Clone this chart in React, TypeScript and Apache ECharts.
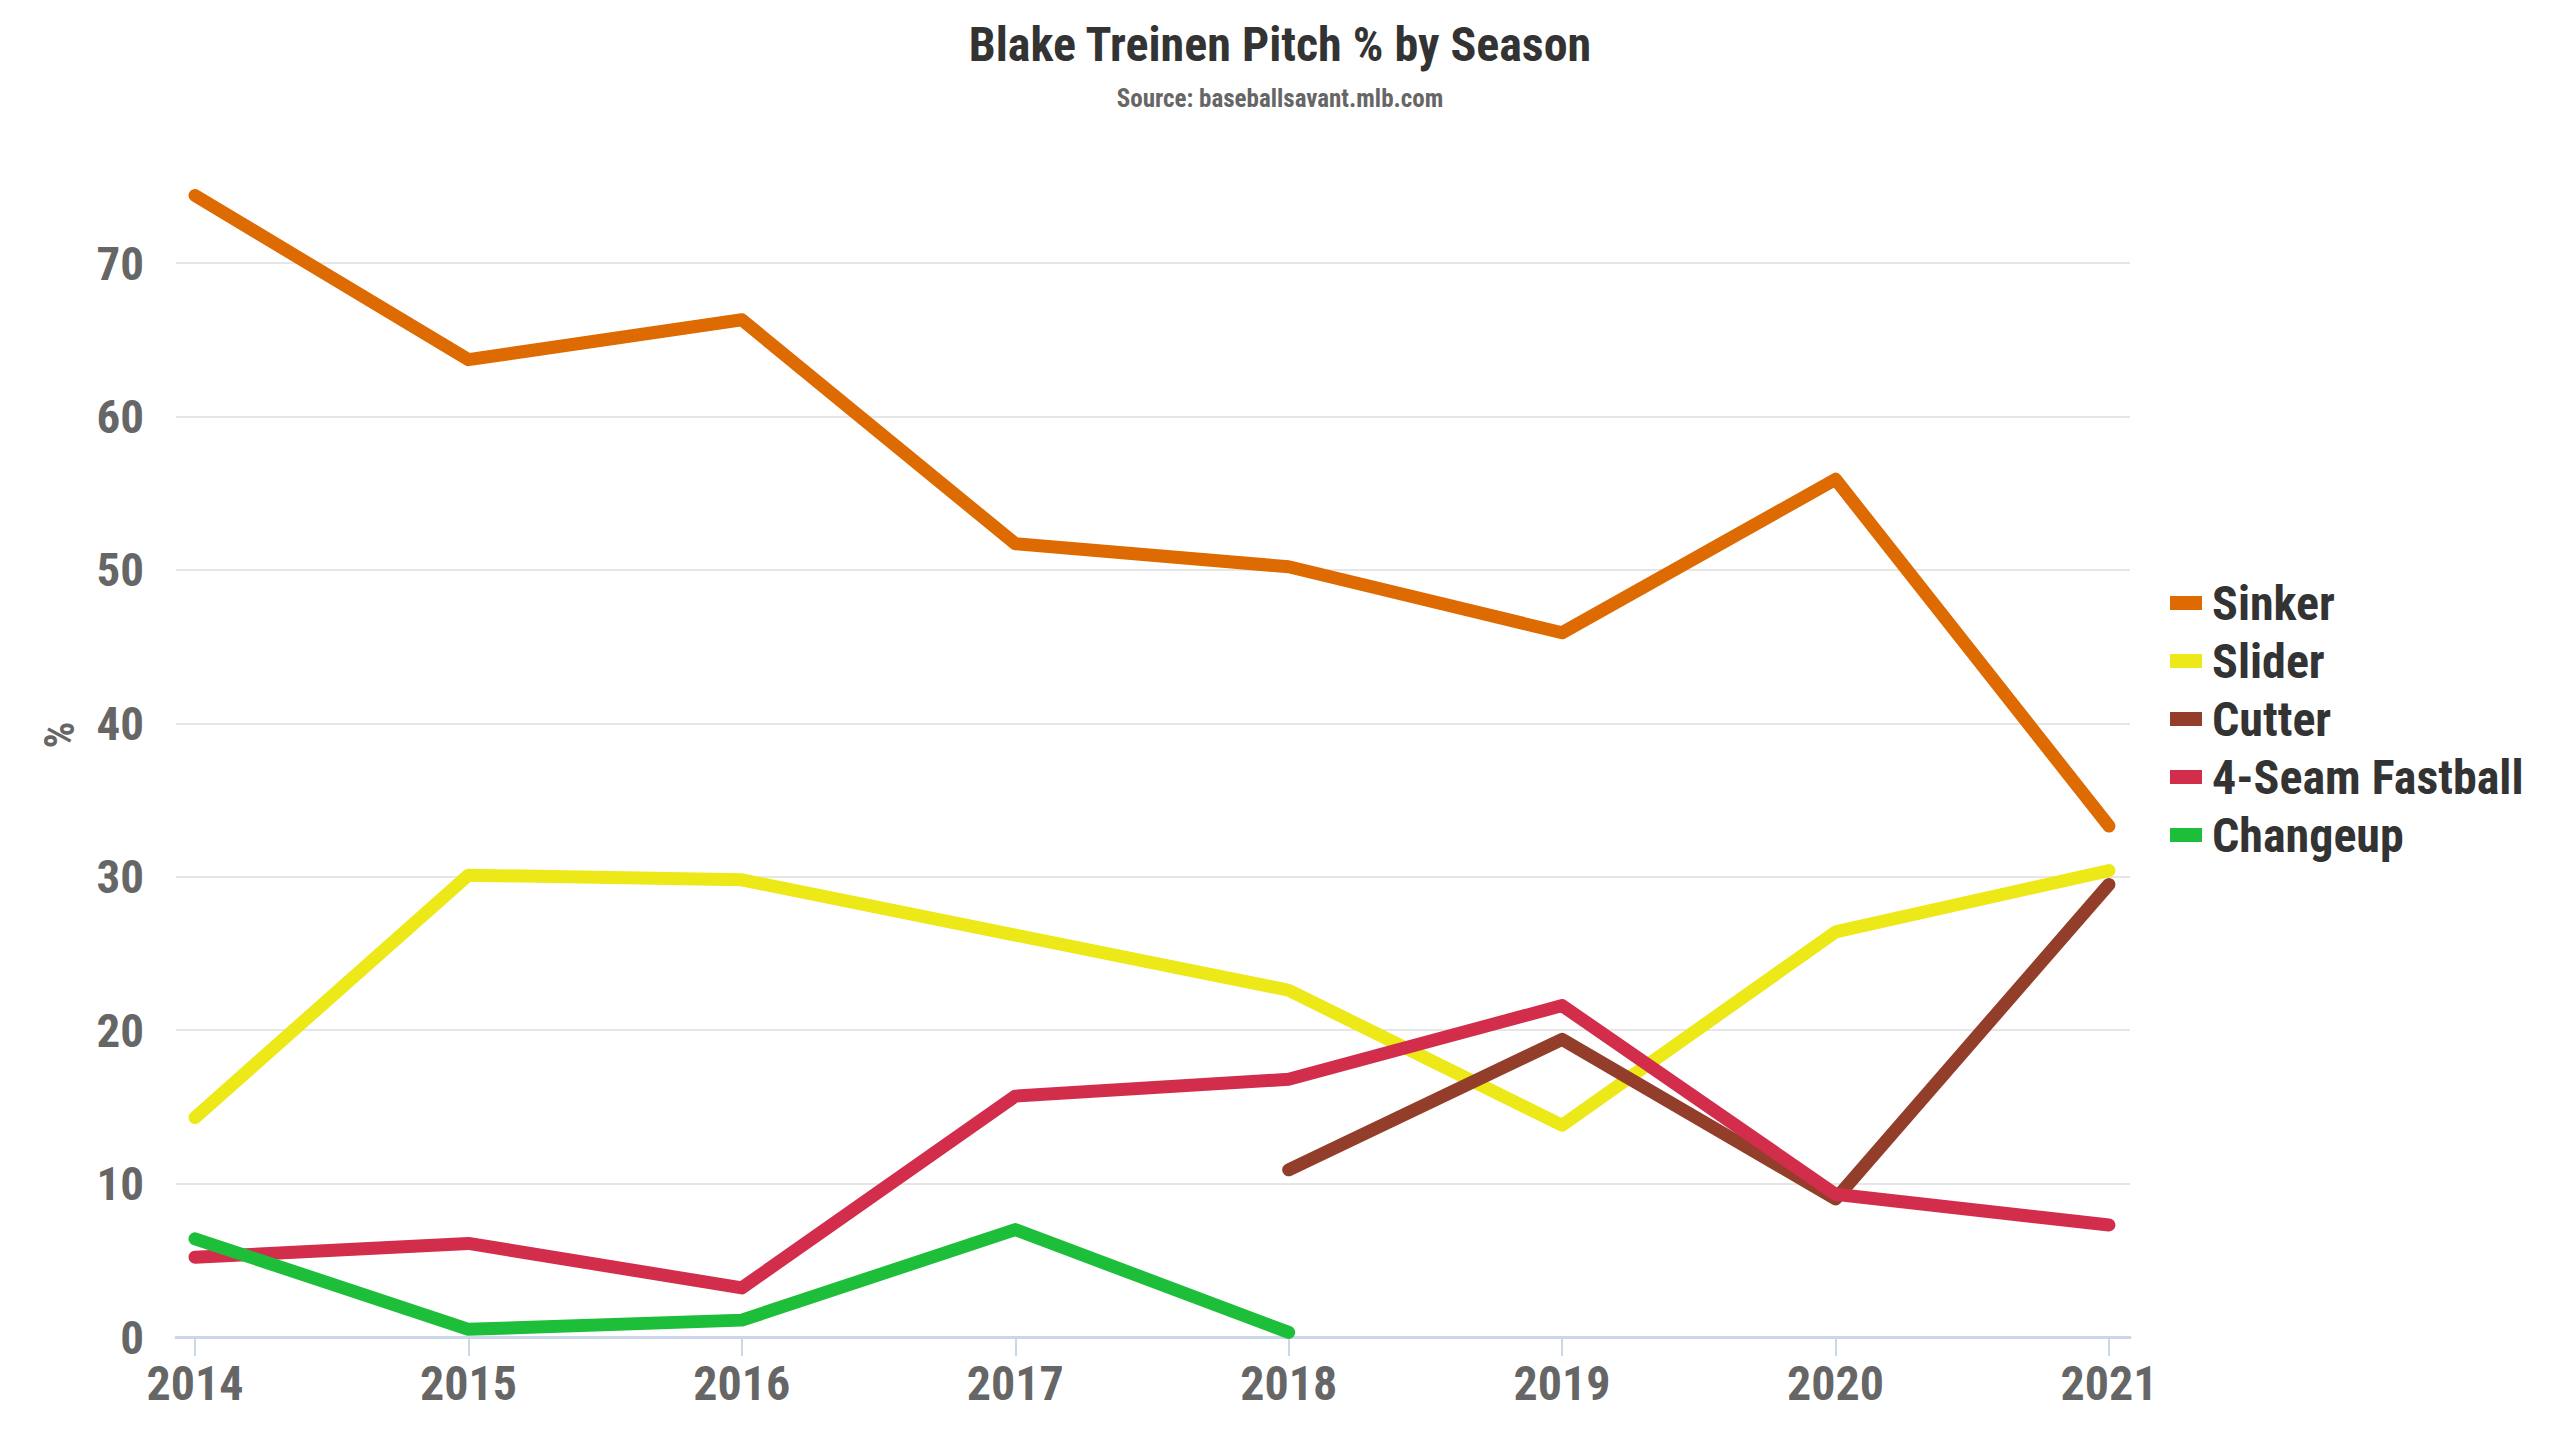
import React, { useEffect, useRef } from "react";
import * as echarts from "echarts";

const TITLE = "Blake Treinen Pitch % by Season";
const SUBTITLE = "Source: baseballsavant.mlb.com";
const Y_NAME = "%";

const YEARS = [2014, 2015, 2016, 2017, 2018, 2019, 2020, 2021];
const Y_TICKS = [0, 10, 20, 30, 40, 50, 60, 70];

const SERIES_NAMES = ["Sinker", "Slider", "Cutter", "4-Seam Fastball", "Changeup"];
const SERIES_COLORS = ["#de6a02", "#ede818", "#933e2a", "#d32d4c", "#1dbf3a"];

const SINKER = [74.4, 63.7, 66.3, 51.7, 50.2, 45.9, 55.9, 33.3];
const SLIDER = [14.3, 30.1, 29.8, 26.2, 22.6, 13.8, 26.4, 30.4];
const CUTTER: (number | null)[] = [null, null, null, null, 10.9, 19.4, 9.0, 29.5];
const FOURSEAM = [5.2, 6.1, 3.2, 15.7, 16.8, 21.6, 9.3, 7.3];
const CHANGEUP: (number | null)[] = [6.4, 0.5, 1.1, 7.0, 0.3, null, null, null];

const SERIES_VALUES = [SINKER, SLIDER, CUTTER, FOURSEAM, CHANGEUP];

const FONT = "'Roboto Condensed', 'Liberation Sans Narrow', 'DejaVu Sans Condensed', sans-serif";

export default function App() {
  const ref = useRef<HTMLDivElement>(null);

  useEffect(() => {
    if (!ref.current) return;
    const chart = echarts.init(ref.current, undefined, { renderer: "svg" });

    const series = SERIES_NAMES.map((name, si) => ({
      name,
      type: "line",
      color: SERIES_COLORS[si],
      showSymbol: false,
      symbol: "none",
      clip: false,
      data: YEARS.map((y, i) => [y, SERIES_VALUES[si][i]]).filter((d) => d[1] !== null),
      lineStyle: { width: 13, color: SERIES_COLORS[si], cap: "round", join: "round" },
      emphasis: { disabled: true },
    }));

    chart.setOption({
      animation: false,
      backgroundColor: "#ffffff",
      title: {
        text: TITLE,
        subtext: SUBTITLE,
        left: "center",
        top: 20,
        padding: 0,
        itemGap: 18,
        textStyle: { fontFamily: FONT, fontSize: 48, fontWeight: "bold", color: "#333333" },
        subtextStyle: { fontFamily: FONT, fontSize: 25, fontWeight: "bold", color: "#666666" },
      },
      legend: {
        orient: "vertical",
        left: 2170,
        top: 579,
        padding: 0,
        icon: "rect",
        itemWidth: 32,
        itemHeight: 14,
        itemGap: 10,
        selectedMode: false,
        data: SERIES_NAMES,
        textStyle: {
          fontFamily: FONT,
          fontSize: 48,
          fontWeight: "bold",
          color: "#333333",
          lineHeight: 46,
          padding: [0, 0, 0, 5],
        },
      },
      grid: { left: 176, right: 430, top: 263, bottom: 103, containLabel: false },
      xAxis: {
        type: "value",
        min: 2013.9305,
        max: 2021.077,
        splitLine: { show: false },
        axisLine: { show: true, onZero: false, lineStyle: { color: "#ccd6eb", width: 3 } },
        axisTick: { show: true, customValues: YEARS, length: 19, lineStyle: { color: "#ccd6eb", width: 2 } },
        axisLabel: {
          customValues: YEARS,
          formatter: (v: number) => String(v),
          margin: 22,
          fontFamily: FONT,
          fontSize: 48,
          fontWeight: "bold",
          color: "#666666",
        },
      },
      yAxis: {
        type: "value",
        min: Y_TICKS[0],
        max: Y_TICKS[Y_TICKS.length - 1],
        interval: 10,
        axisLine: { show: false },
        axisTick: { show: false },
        splitLine: { show: true, lineStyle: { color: "#e6e6e6", width: 2 } },
        axisLabel: {
          margin: 32,
          fontFamily: FONT,
          fontSize: 47,
          fontWeight: "bold",
          color: "#666666",
        },
      },
      graphic: [
        {
          type: "text",
          x: 59,
          y: 735,
          rotation: Math.PI / 2,
          style: {
            text: Y_NAME,
            fontFamily: FONT,
            fontSize: 42,
            fontWeight: "bold",
            fill: "#666666",
            align: "center",
            verticalAlign: "middle",
          },
        },
      ],
      series,
    });

    return () => chart.dispose();
  }, []);

  return (
    <div
      ref={ref}
      style={{ position: "fixed", left: 0, top: 0, width: 2560, height: 1440, background: "#fff" }}
    />
  );
}
